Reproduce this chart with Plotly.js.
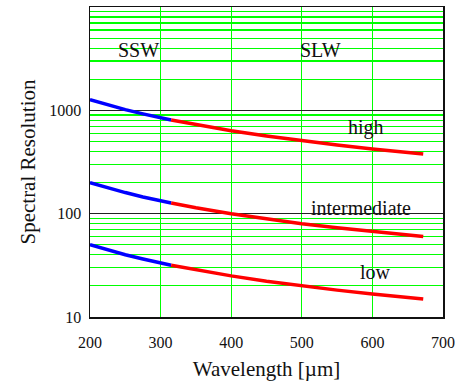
<!DOCTYPE html>
<html><head><meta charset="utf-8">
<script src="https://cdn.plot.ly/plotly-3.0.1.min.js"></script>
<style>html,body{margin:0;padding:0;background:#fff}#chart{width:455px;height:381px}</style>
</head><body><div id="chart"></div>
<script>
// Wavelength samples [µm]
const sswWave = [200, 225, 250, 275, 300, 315];
const slwWave = [315, 350, 400, 450, 500, 550, 600, 650, 672];
// Spectral resolution
const highSSW = [1270, 1130, 1015, 925, 845, 805];
const highSLW = [805, 725, 635, 565, 508, 462, 423, 390, 378];
const interSSW = [200, 178, 160, 145, 133, 127];
const interSLW = [127, 114, 100, 89, 80, 73, 67, 62, 60];
const lowSSW = [50, 44.5, 40, 36.4, 33.3, 31.7];
const lowSLW = [31.7, 28.6, 25, 22.2, 20, 18.2, 16.7, 15.4, 14.9];
// Text labels
const labelText = ["SSW", "SLW", "high", "intermediate", "low"];
const labelX = [268, 526, 591, 584, 605];
const labelY = [3800, 3800, 685, 114, 27];
const yTickVals = [10, 100, 1000];
const yTickText = ["10", "100", "1000"];
const xTickVals = [200, 300, 400, 500, 600, 700];

const minorVals = [];
[10, 100, 1000].forEach(d => { for (let k = 2; k <= 9; k++) minorVals.push(d * k); });

const blue = '#0000ff', red = '#ff0000', green = '#00ff00';
function tr(x, y, c) {
  return {x: x, y: y, type: 'scatter', mode: 'lines', line: {color: c, width: 3.5}, hoverinfo: 'skip'};
}
const data = [
  tr(sswWave, highSSW, blue), tr(slwWave, highSLW, red),
  tr(sswWave, interSSW, blue), tr(slwWave, interSLW, red),
  tr(sswWave, lowSSW, blue), tr(slwWave, lowSLW, red)
];
const FAM = 'Liberation Serif';
function f(size) { return {family: FAM, size: size, color: '#111'}; }
const annotations = labelText.map((t, i) => ({
  x: labelX[i], y: Math.log10(labelY[i]), xref: 'x', yref: 'y', text: t,
  showarrow: false, font: f(20)
}));
const layout = {
  width: 455, height: 381,
  margin: {l: 90, r: 12, t: 7, b: 64},
  paper_bgcolor: '#fff', plot_bgcolor: '#fff',
  showlegend: false,
  font: f(16),
  xaxis: {
    range: [200, 700], tickmode: 'array', tickvals: xTickVals,
    showgrid: true, gridcolor: green, gridwidth: 1.2,
    showline: true, linecolor: '#111', linewidth: 1.5, mirror: true,
    ticks: '', zeroline: false, ticklabelstandoff: 10,
    tickfont: f(16),
    title: {text: 'Wavelength [µm]', font: f(21), standoff: 13}
  },
  yaxis: {
    type: 'log', range: [1, 4], tickmode: 'array', tickvals: yTickVals, ticktext: yTickText,
    showgrid: true, gridcolor: '#222', gridwidth: 1,
    minor: {tickmode: 'array', tickvals: minorVals, showgrid: true, gridcolor: green, gridwidth: 1.2, ticks: ''},
    showline: true, linecolor: '#111', linewidth: 1.5, mirror: true,
    ticks: '', zeroline: false, ticklabelstandoff: 4,
    tickfont: f(16),
    title: {text: 'Spectral Resolution', font: f(21), standoff: 8}
  },
  annotations: annotations
};
Plotly.newPlot('chart', data, layout, {staticPlot: true, displayModeBar: false});
</script></body></html>
